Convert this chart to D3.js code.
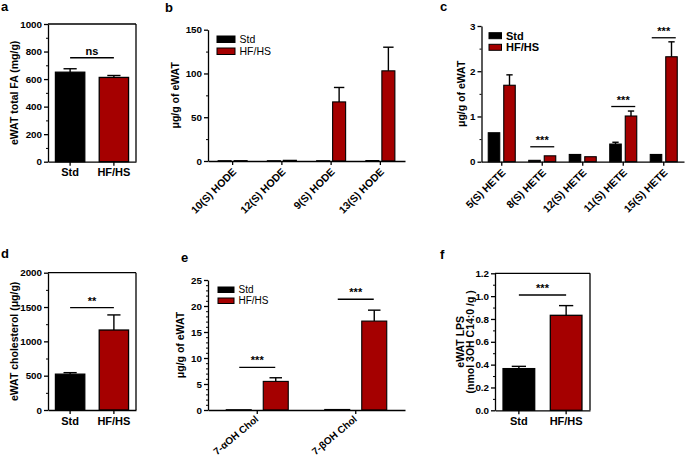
<!DOCTYPE html>
<html><head><meta charset="utf-8">
<script src="https://cdn.jsdelivr.net/npm/d3@7"></script>
<style>
body{margin:0;background:#fff}
svg{display:block}
text{font-family:"Liberation Sans",Arial,Helvetica,sans-serif;fill:#000}
</style>
</head><body>
<svg id="chart" width="685" height="458"></svg>
<script>
// ---------------- DATA ----------------
const series = ["Std", "HF/HS"];

// a: eWAT total FA
const aCategories = ["Std", "HF/HS"];
const aValues = [650, 612];
const aErrors = [25, 14];
const aTicks = [0, 200, 400, 600, 800, 1000];
const aSig = {value: 755, text: "ns"};

// b: HODE
const bCategories = ["10(S) HODE", "12(S) HODE", "9(S) HODE", "13(S) HODE"];
const bStd = [0.3, 0.3, 0.3, 0.5];
const bStdErr = [0, 0, 0, 0];
const bHF = [0.4, 0.8, 67.5, 103];
const bHFErr = [0.1, 0.2, 16.5, 27];
const bTicks = [0, 50, 100, 150];

// c: HETE
const cCategories = ["5(S) HETE", "8(S) HETE", "12(S) HETE", "11(S) HETE", "15(S) HETE"];
const cStd = [0.64, 0.03, 0.16, 0.39, 0.16];
const cStdErr = [0.02, 0.005, 0.01, 0.04, 0.01];
const cHF = [1.69, 0.13, 0.11, 1.01, 2.32];
const cHFErr = [0.23, 0.02, 0.01, 0.11, 0.33];
const cTicks = [0, 1, 2, 3];
const cSig = [{cat: "8(S) HETE", value: 0.33, text: "***"},
              {cat: "11(S) HETE", value: 1.22, text: "***"},
              {cat: "15(S) HETE", value: 2.74, text: "***"}];

// d: cholesterol
const dCategories = ["Std", "HF/HS"];
const dValues = [522, 1165];
const dErrors = [22, 220];
const dTicks = [0, 500, 1000, 1500, 2000];
const dSig = {value: 1490, text: "**"};

// e: oxysterols
const eCategories = ["7-\u03b1OH Chol", "7-\u03b2OH Chol"];
const eStd = [0.05, 0.1];
const eStdErr = [0, 0];
const eHF = [5.5, 17.1];
const eHFErr = [0.7, 2.1];
const eTicks = [0, 5, 10, 15, 20, 25];
const eSig = [{cat: "7-\u03b1OH Chol", value: 8.2, text: "***"},
              {cat: "7-\u03b2OH Chol", value: 21.3, text: "***"}];

// f: LPS
const fCategories = ["Std", "HF/HS"];
const fValues = [0.365, 0.832];
const fErrors = [0.02, 0.085];
const fTicks = [0, 0.2, 0.4, 0.6, 0.8, 1.0, 1.2];
const fSig = {value: 1.01, text: "***"};

// ---------------- DRAWING ----------------
const RED = "#a50000";
const colors = {"Std": "#000000", "HF/HS": RED};
const svg = d3.select("#chart");
const SW = 1.3;

function yAxis(g, y, x0, ticks, minorStep, fmt) {
  const max = ticks[ticks.length - 1];
  const ax = g.append("g").attr("transform", `translate(${x0},0)`)
    .call(d3.axisLeft(y).tickValues(ticks).tickSize(4).tickSizeOuter(0).tickPadding(2).tickFormat(fmt));
  ax.select(".domain").attr("stroke-width", SW);
  ax.selectAll(".tick line").attr("stroke-width", SW);
  ax.selectAll("text").style("font-size", "9.8px").style("font-weight", "bold").attr("fill", "#000");
  const minors = d3.range(0, max + minorStep / 2, minorStep)
    .filter(v => !ticks.some(t => Math.abs(t - v) < minorStep / 10));
  const mx = g.append("g").attr("transform", `translate(${x0},0)`)
    .call(d3.axisLeft(y).tickValues(minors).tickSize(2).tickFormat(""));
  mx.select(".domain").remove();
  mx.selectAll(".tick line").attr("stroke-width", 1);
}

function yTitle(g, lines, x, yc, size) {
  lines.forEach((l, i) => {
    g.append("text").attr("transform", `translate(${x + i * 10.5},${yc}) rotate(-90)`)
      .attr("text-anchor", "middle").style("font-size", size + "px").style("font-weight", "bold").text(l);
  });
}

function panelLabel(txt, x, y) {
  svg.append("text").attr("x", x).attr("y", y).style("font-size", "13px").style("font-weight", "bold").text(txt);
}

function errBar(g, cx, yTopPix, yErrPix, capW) {
  g.append("line").attr("x1", cx).attr("x2", cx).attr("y1", yTopPix).attr("y2", yErrPix)
    .attr("stroke", "#000").attr("stroke-width", 1.4);
  g.append("line").attr("x1", cx - capW / 2).attr("x2", cx + capW / 2).attr("y1", yErrPix).attr("y2", yErrPix)
    .attr("stroke", "#000").attr("stroke-width", 1.4);
}

function sigMark(g, xa, xb, yPix, txt, size) {
  g.append("line").attr("x1", xa).attr("x2", xb).attr("y1", yPix).attr("y2", yPix)
    .attr("stroke", "#000").attr("stroke-width", SW);
  g.append("text").attr("x", (xa + xb) / 2).attr("y", yPix - 3).attr("text-anchor", "middle")
    .style("font-size", size + "px").style("font-weight", "bold").text(txt);
}

// Two-bar boxed panel
function simplePanel(o) {
  const g = svg.append("g");
  const y = d3.scaleLinear().domain([0, o.ticks[o.ticks.length - 1]]).range([o.yBot, o.yTop]);
  const x = d3.scaleBand().domain(o.categories).range([o.x0, o.x1]).paddingInner(0.33).paddingOuter(0.17);
  o.categories.forEach((c, i) => {
    g.append("rect").attr("x", x(c)).attr("y", y(o.values[i])).attr("width", x.bandwidth())
      .attr("height", y(0) - y(o.values[i])).attr("fill", colors[c]).attr("stroke", "#000").attr("stroke-width", SW);
    errBar(g, x(c) + x.bandwidth() / 2, y(o.values[i]), y(o.values[i] + o.errors[i]), x.bandwidth() * 0.45);
  });
  g.append("line").attr("x1", o.x0).attr("x2", o.x1).attr("y1", o.yTop).attr("y2", o.yTop).attr("stroke", "#000").attr("stroke-width", SW);
  g.append("line").attr("x1", o.x1).attr("x2", o.x1).attr("y1", o.yTop).attr("y2", o.yBot).attr("stroke", "#000").attr("stroke-width", SW);
  yAxis(g, y, o.x0, o.ticks, o.minor, o.fmt);
  const xa = g.append("g").attr("transform", `translate(0,${o.yBot})`)
    .call(d3.axisBottom(x).tickSize(4).tickSizeOuter(0).tickPadding(3));
  xa.select(".domain").attr("stroke-width", SW);
  xa.selectAll(".tick line").attr("stroke-width", SW);
  xa.selectAll("text").style("font-size", "11px").style("font-weight", "bold").attr("fill", "#000");
  const cx = c => x(c) + x.bandwidth() / 2;
  sigMark(g, cx(o.categories[0]), cx(o.categories[1]), y(o.sig.value), o.sig.text, o.sigSize);
  yTitle(g, o.title, o.titleX, (o.yTop + o.yBot) / 2, 10.5);
}

// Grouped panel
function groupPanel(o) {
  const g = svg.append("g");
  const y = d3.scaleLinear().domain([0, o.ticks[o.ticks.length - 1]]).range([o.yBot, o.yTop]);
  const x = d3.scaleBand().domain(o.categories).range([o.x0, o.x1]);
  const step = o.barW + o.gap;
  const pi = o.gap / step;
  const po = (x.bandwidth() / step - 2 + pi) / 2;
  const xs = d3.scaleBand().domain(series).range([0, x.bandwidth()]).paddingInner(pi).paddingOuter(po);
  const vals = {"Std": o.std, "HF/HS": o.hf};
  const errs = {"Std": o.stdErr, "HF/HS": o.hfErr};
  o.categories.forEach((c, i) => {
    series.forEach(s => {
      const v = vals[s][i];
      const bx = x(c) + xs(s);
      g.append("rect").attr("x", bx).attr("y", y(v)).attr("width", xs.bandwidth())
        .attr("height", Math.max(0, y(0) - y(v))).attr("fill", colors[s]).attr("stroke", "#000").attr("stroke-width", 1.1);
      if (errs[s][i] > 0 && y(v) - y(v + errs[s][i]) > 1)
        errBar(g, bx + xs.bandwidth() / 2, y(v), y(v + errs[s][i]), xs.bandwidth() * o.capF);
    });
  });
  yAxis(g, y, o.x0, o.ticks, o.minor, o.fmt);
  const xa = g.append("g").attr("transform", `translate(0,${o.yBot})`)
    .call(d3.axisBottom(x).tickSize(4).tickSizeOuter(0));
  xa.select(".domain").attr("stroke-width", SW);
  xa.selectAll(".tick line").attr("stroke-width", SW);
  xa.selectAll("text").style("font-size", o.labelSize + "px").style("font-weight", "bold").attr("fill", "#000")
    .attr("text-anchor", "end").attr("x", -5).attr("y", o.labelY).attr("dy", "0.6em")
    .attr("transform", `rotate(${o.labelAngle})`);
  if (o.sig) o.sig.forEach(sg => {
    const cx = x(sg.cat) + x.bandwidth() / 2;
    sigMark(g, cx - o.sigHalf, cx + o.sigHalf, y(sg.value), sg.text, 11);
  });
  series.forEach((s, i) => {
    const ly = o.legY + i * o.legDY;
    g.append("rect").attr("x", o.legX).attr("y", ly).attr("width", o.legW).attr("height", o.legH)
      .attr("fill", colors[s]).attr("stroke", "#000").attr("stroke-width", 1);
    g.append("text").attr("x", o.legX + o.legW + 4.5).attr("y", ly + o.legH / 2).attr("dy", "0.36em")
      .style("font-size", o.legSize + "px").style("font-weight", o.legWeight).text(s);
  });
  yTitle(g, o.title, o.titleX, (o.yTop + o.yBot) / 2, 10.5);
}

// Panel a
simplePanel({categories: aCategories, values: aValues, errors: aErrors, ticks: aTicks, minor: 100,
  fmt: d3.format("d"), x0: 48, x1: 136, yTop: 24, yBot: 161.7, sig: aSig, sigSize: 11,
  title: ["eWAT total FA (mg/g)"], titleX: 18});
panelLabel("a", 1, 11);

// Panel d
simplePanel({categories: dCategories, values: dValues, errors: dErrors, ticks: dTicks, minor: 250,
  fmt: d3.format("d"), x0: 48, x1: 136, yTop: 272.7, yBot: 410, sig: dSig, sigSize: 11,
  title: ["eWAT cholesterol (\u03bcg/g)"], titleX: 18});
panelLabel("d", 1, 258);

// Panel f
simplePanel({categories: fCategories, values: fValues, errors: fErrors, ticks: fTicks, minor: 0.1,
  fmt: d3.format(".1f"), x0: 495, x1: 590, yTop: 273.3, yBot: 410.3, sig: fSig, sigSize: 11,
  title: ["eWAT LPS", "(nmol 3OH C14:0 /g )"], titleX: 463.5});
panelLabel("f", 440, 259);

// Panel b
groupPanel({categories: bCategories, std: bStd, stdErr: bStdErr, hf: bHF, hfErr: bHFErr, ticks: bTicks, minor: 25,
  fmt: d3.format("d"), x0: 208, x1: 405, yTop: 29.7, yBot: 161, barW: 13, gap: 3, capF: 0.8,
  labelSize: 10.5, labelAngle: -45, labelY: 5,
  legX: 217, legY: 36, legDY: 12, legW: 18, legH: 6.5, legSize: 10.5, legWeight: "normal",
  title: ["\u03bcg/g of eWAT"], titleX: 179});
panelLabel("b", 165, 12);

// Panel c
groupPanel({categories: cCategories, std: cStd, stdErr: cStdErr, hf: cHF, hfErr: cHFErr, ticks: cTicks, minor: 0.5,
  fmt: d3.format("d"), x0: 481.5, x1: 684, yTop: 26, yBot: 161.7, barW: 11.5, gap: 4, capF: 0.55,
  labelSize: 10.5, labelAngle: -45, labelY: 5,
  sig: cSig, sigHalf: 12,
  legX: 489, legY: 32.7, legDY: 11.6, legW: 12.5, legH: 6, legSize: 11, legWeight: "bold",
  title: ["\u03bcg/g of eWAT"], titleX: 465});
panelLabel("c", 440, 11);

// Panel e
groupPanel({categories: eCategories, std: eStd, stdErr: eStdErr, hf: eHF, hfErr: eHFErr, ticks: eTicks, minor: 1,
  fmt: d3.format("d"), x0: 208, x1: 405, yTop: 280, yBot: 410, barW: 25, gap: 12, capF: 0.5,
  labelSize: 10, labelAngle: -40, labelY: 3,
  sig: eSig, sigHalf: 18,
  legX: 218, legY: 287, legDY: 11, legW: 16, legH: 5.5, legSize: 10, legWeight: "normal",
  title: ["\u03bcg/g of eWAT"], titleX: 184});
panelLabel("e", 181, 262);
</script>
</body></html>
